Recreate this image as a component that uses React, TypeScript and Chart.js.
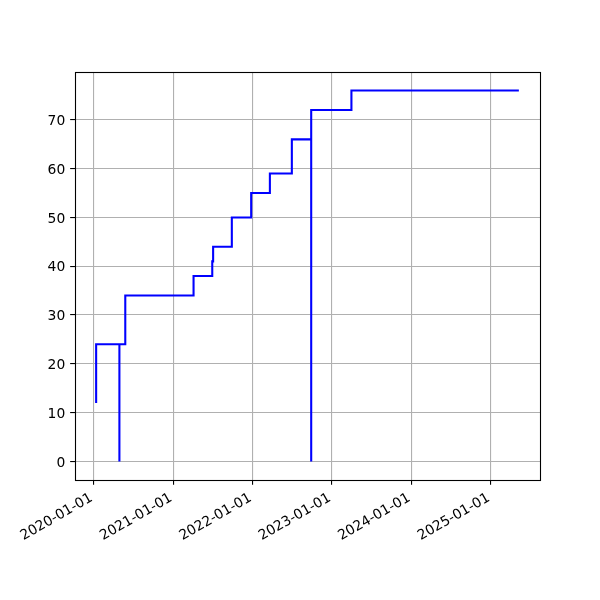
import React, { useEffect, useRef } from "react";
import { Chart, registerables } from "chart.js";

Chart.register(...registerables);

// Step series: dates where the value changes, and the value from that date on
const dates = [
  "2020-01-13", "2020-01-13", "2020-04-29", "2020-04-29", "2020-05-26",
  "2021-04-05", "2021-06-30", "2021-07-04", "2021-09-28", "2021-12-26",
  "2022-03-22", "2022-07-01", "2022-09-28", "2022-09-28", "2023-04-01",
  "2025-05-10",
];
const values = [12, 24, 0, 24, 34, 38, 41, 44, 50, 55, 59, 66, 0, 72, 76, 76];

const xTickLabels = ["2020-01-01", "2021-01-01", "2022-01-01", "2023-01-01", "2024-01-01", "2025-01-01"];
const yTickValues = [0, 10, 20, 30, 40, 50, 60, 70];

const FONT = { family: "'DejaVu Sans', sans-serif", size: 13.89 };
const TICK_LEN = 4.86;
const TICK_PAD = 4.86;

const framePlugin = {
  id: "frame",
  afterDraw(chart: any) {
    const { ctx, chartArea } = chart;
    ctx.save();
    ctx.strokeStyle = "#000";
    ctx.lineWidth = 1.1;
    ctx.strokeRect(
      Math.round(chartArea.left) + 0.5,
      Math.round(chartArea.top) + 0.5,
      Math.round(chartArea.right - chartArea.left),
      Math.round(chartArea.bottom - chartArea.top)
    );
    ctx.restore();
  },
};

// nudge tick-label anchors so they sit like matplotlib's (right/top aligned bbox)
const labelNudgePlugin = {
  id: "labelNudge",
  beforeDraw(chart: any) {
    const x = chart.scales.x;
    const y = chart.scales.y;
    if (x && x.getLabelItems) {
      const items = x.getLabelItems(chart.chartArea);
      items.forEach((it: any) => {
        if (!it._nudged) {
          it.options.translation[0] -= 2;
          it._nudged = true;
        }
      });
    }
    if (y && y.getLabelItems) {
      const items = y.getLabelItems(chart.chartArea);
      items.forEach((it: any) => {
        if (!it._nudged) {
          it.options.translation[1] += 1.5;
          it._nudged = true;
        }
      });
    }
  },
};

export default function App() {
  const canvasRef = useRef<HTMLCanvasElement | null>(null);

  useEffect(() => {
    const canvas = canvasRef.current;
    if (!canvas) return;

    const xs = dates.map((d) => Date.parse(d));
    const points = xs.map((x, i) => ({ x, y: values[i] }));
    const xMinData = Math.min(...xs);
    const xMaxData = Math.max(...xs);
    const xMargin = (xMaxData - xMinData) * 0.05;
    const yMinData = Math.min(...values);
    const yMaxData = Math.max(...values);
    const yMargin = (yMaxData - yMinData) * 0.05;

    const chart = new Chart(canvas, {
      type: "line",
      data: {
        datasets: [
          {
            data: points,
            borderColor: "#0000ff",
            borderWidth: 2.08,
            pointRadius: 0,
            stepped: true,
            fill: false,
          },
        ],
      },
      options: {
        animation: false,
        responsive: false,
        devicePixelRatio: 1,
        layout: { padding: { top: 72, right: 60, left: 0, bottom: 0 } },
        plugins: {
          legend: { display: false },
          tooltip: { enabled: false },
        },
        scales: {
          x: {
            type: "linear",
            min: xMinData - xMargin,
            max: xMaxData + xMargin,
            afterBuildTicks: (scale: any) => {
              scale.ticks = xTickLabels.map((s) => ({ value: Date.parse(s) }));
            },
            afterFit: (scale: any) => {
              scale.height = 120;
            },
            ticks: {
              autoSkip: false,
              minRotation: 30,
              maxRotation: 30,
              padding: TICK_PAD,
              color: "#000",
              font: FONT,
              callback: (v: any) => new Date(Number(v)).toISOString().slice(0, 10),
            },
            grid: {
              color: "#b0b0b0",
              lineWidth: 1.1,
              tickColor: "#000",
              tickLength: TICK_LEN,
              tickWidth: 1.1,
            },
            border: { display: false },
          },
          y: {
            type: "linear",
            min: yMinData - yMargin,
            max: yMaxData + yMargin,
            afterBuildTicks: (scale: any) => {
              scale.ticks = yTickValues.map((v) => ({ value: v }));
            },
            afterFit: (scale: any) => {
              scale.width = 75;
            },
            ticks: {
              padding: TICK_PAD,
              color: "#000",
              font: FONT,
              callback: (v: any) => String(v),
            },
            grid: {
              color: "#b0b0b0",
              lineWidth: 1.1,
              tickColor: "#000",
              tickLength: TICK_LEN,
              tickWidth: 1.1,
            },
            border: { display: false },
          },
        },
      },
      plugins: [labelNudgePlugin, framePlugin],
    } as any);

    return () => chart.destroy();
  }, []);

  return (
    <div style={{ position: "absolute", left: 0, top: 0, width: 600, height: 600, background: "#fff" }}>
      <canvas ref={canvasRef} width={600} height={600} />
    </div>
  );
}
